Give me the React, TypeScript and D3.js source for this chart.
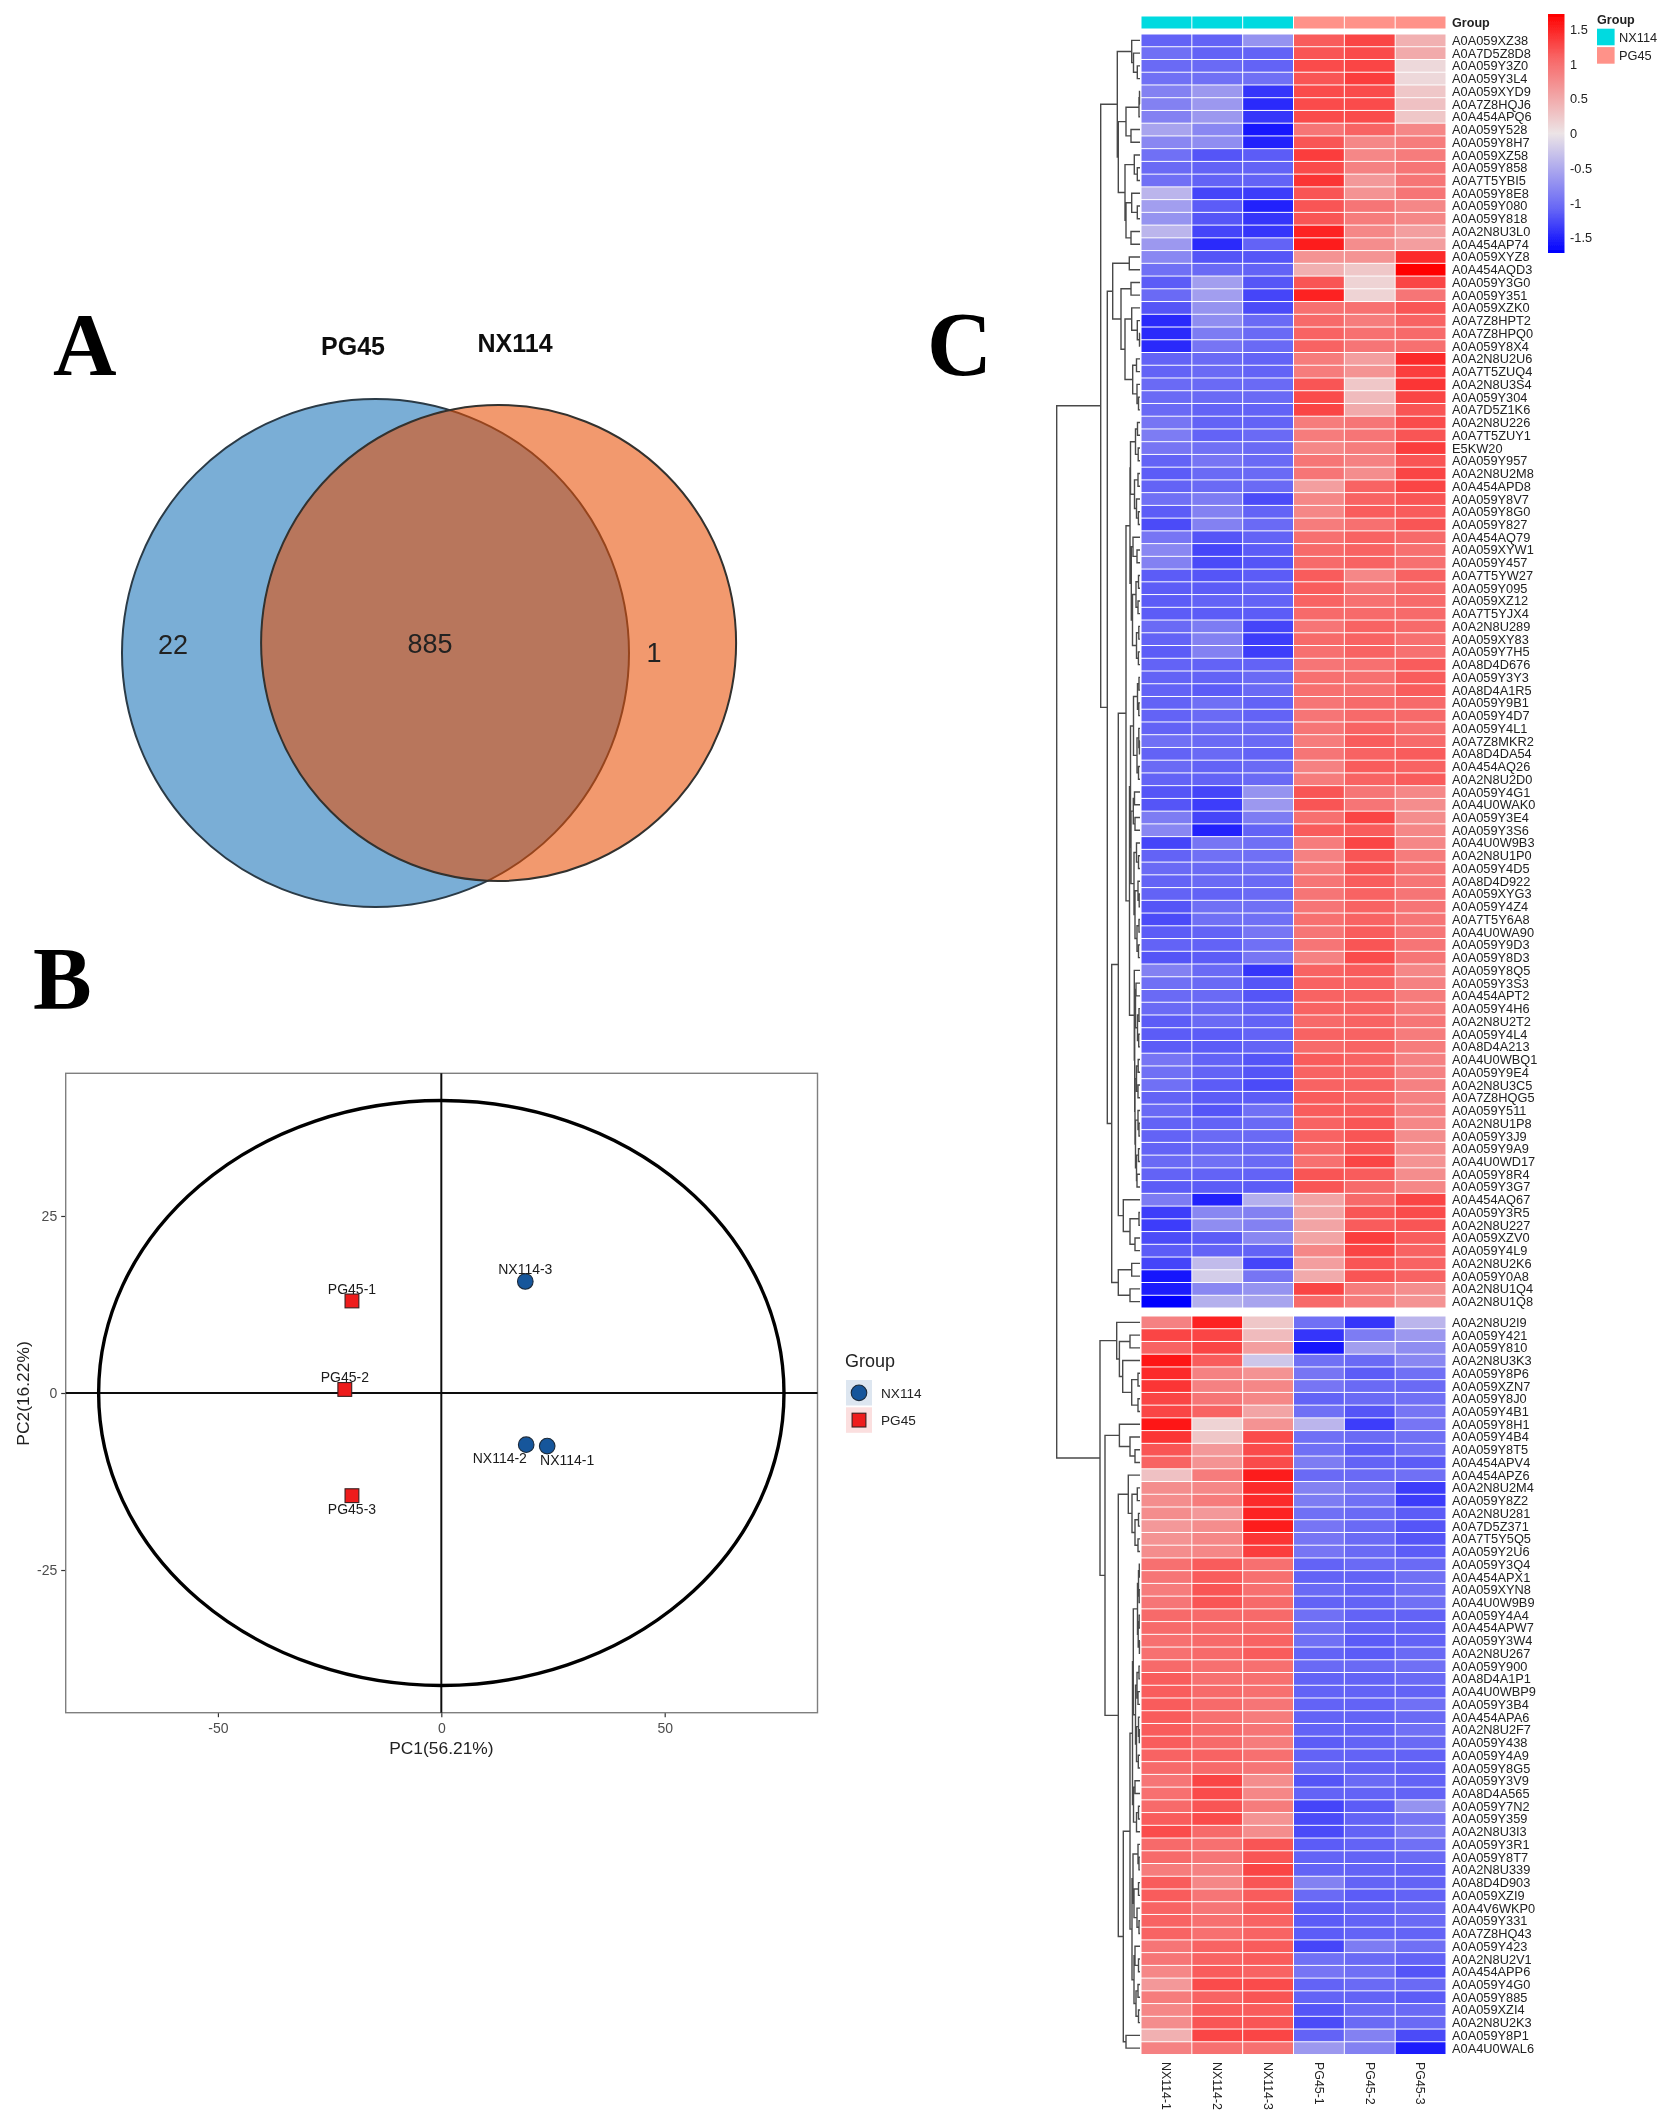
import { useEffect, useRef } from 'react';
import * as d3 from 'd3';

type Tree = number | [number, Tree, Tree];

const FONT = '"Liberation Sans", Arial, sans-serif';

// panel A
const vennSets = ['PG45', 'NX114'];
const vennCounts = [22, 885, 1];

// panel B
const pcaNames = ['NX114-1', 'NX114-2', 'NX114-3', 'PG45-1', 'PG45-2', 'PG45-3'];
const pcaX = [23.7, 19, 18.8, -20, -21.6, -20];
const pcaY = [-7.5, -7.3, 15.75, 13, 0.5, -14.5];
const pcaGroups = ['NX114', 'PG45'];
const pcaXTicks = [-50, 0, 50];
const pcaYTicks = [-25, 0, 25];
const ellipseRadius = [76.7, 41.3];

// panel C
const samples = ['NX114-1', 'NX114-2', 'NX114-3', 'PG45-1', 'PG45-2', 'PG45-3'];
const sampleGroups = ['NX114', 'NX114', 'NX114', 'PG45', 'PG45', 'PG45'];
const legendTicks = [1.5, 1, 0.5, 0, -0.5, -1, -1.5];

const topLabels = [
    'A0A059XZ38', 'A0A7D5Z8D8', 'A0A059Y3Z0', 'A0A059Y3L4', 'A0A059XYD9', 'A0A7Z8HQJ6', 'A0A454APQ6', 'A0A059Y528', 'A0A059Y8H7', 'A0A059XZ58',
    'A0A059Y858', 'A0A7T5YBI5', 'A0A059Y8E8', 'A0A059Y080', 'A0A059Y818', 'A0A2N8U3L0', 'A0A454AP74', 'A0A059XYZ8', 'A0A454AQD3', 'A0A059Y3G0',
    'A0A059Y351', 'A0A059XZK0', 'A0A7Z8HPT2', 'A0A7Z8HPQ0', 'A0A059Y8X4', 'A0A2N8U2U6', 'A0A7T5ZUQ4', 'A0A2N8U3S4', 'A0A059Y304', 'A0A7D5Z1K6',
    'A0A2N8U226', 'A0A7T5ZUY1', 'E5KW20', 'A0A059Y957', 'A0A2N8U2M8', 'A0A454APD8', 'A0A059Y8V7', 'A0A059Y8G0', 'A0A059Y827', 'A0A454AQ79',
    'A0A059XYW1', 'A0A059Y457', 'A0A7T5YW27', 'A0A059Y095', 'A0A059XZ12', 'A0A7T5YJX4', 'A0A2N8U289', 'A0A059XY83', 'A0A059Y7H5', 'A0A8D4D676',
    'A0A059Y3Y3', 'A0A8D4A1R5', 'A0A059Y9B1', 'A0A059Y4D7', 'A0A059Y4L1', 'A0A7Z8MKR2', 'A0A8D4DA54', 'A0A454AQ26', 'A0A2N8U2D0', 'A0A059Y4G1',
    'A0A4U0WAK0', 'A0A059Y3E4', 'A0A059Y3S6', 'A0A4U0W9B3', 'A0A2N8U1P0', 'A0A059Y4D5', 'A0A8D4D922', 'A0A059XYG3', 'A0A059Y4Z4', 'A0A7T5Y6A8',
    'A0A4U0WA90', 'A0A059Y9D3', 'A0A059Y8D3', 'A0A059Y8Q5', 'A0A059Y3S3', 'A0A454APT2', 'A0A059Y4H6', 'A0A2N8U2T2', 'A0A059Y4L4', 'A0A8D4A213',
    'A0A4U0WBQ1', 'A0A059Y9E4', 'A0A2N8U3C5', 'A0A7Z8HQG5', 'A0A059Y511', 'A0A2N8U1P8', 'A0A059Y3J9', 'A0A059Y9A9', 'A0A4U0WD17', 'A0A059Y8R4',
    'A0A059Y3G7', 'A0A454AQ67', 'A0A059Y3R5', 'A0A2N8U227', 'A0A059XZV0', 'A0A059Y4L9', 'A0A2N8U2K6', 'A0A059Y0A8', 'A0A2N8U1Q4', 'A0A2N8U1Q8',
];

const bottomLabels = [
    'A0A2N8U2I9', 'A0A059Y421', 'A0A059Y810', 'A0A2N8U3K3', 'A0A059Y8P6', 'A0A059XZN7', 'A0A059Y8J0', 'A0A059Y4B1', 'A0A059Y8H1', 'A0A059Y4B4',
    'A0A059Y8T5', 'A0A454APV4', 'A0A454APZ6', 'A0A2N8U2M4', 'A0A059Y8Z2', 'A0A2N8U281', 'A0A7D5Z371', 'A0A7T5Y5Q5', 'A0A059Y2U6', 'A0A059Y3Q4',
    'A0A454APX1', 'A0A059XYN8', 'A0A4U0W9B9', 'A0A059Y4A4', 'A0A454APW7', 'A0A059Y3W4', 'A0A2N8U267', 'A0A059Y900', 'A0A8D4A1P1', 'A0A4U0WBP9',
    'A0A059Y3B4', 'A0A454APA6', 'A0A2N8U2F7', 'A0A059Y438', 'A0A059Y4A9', 'A0A059Y8G5', 'A0A059Y3V9', 'A0A8D4A565', 'A0A059Y7N2', 'A0A059Y359',
    'A0A2N8U3I3', 'A0A059Y3R1', 'A0A059Y8T7', 'A0A2N8U339', 'A0A8D4D903', 'A0A059XZI9', 'A0A4V6WKP0', 'A0A059Y331', 'A0A7Z8HQ43', 'A0A059Y423',
    'A0A2N8U2V1', 'A0A454APP6', 'A0A059Y4G0', 'A0A059Y885', 'A0A059XZI4', 'A0A2N8U2K3', 'A0A059Y8P1', 'A0A4U0WAL6',
];

const topValues = [
    [-1.1, -1.1, -0.7, 1.15, 1.3, 0.45], [-1, -1.1, -1.1, 1.2, 1.25, 0.5], [-1.05, -1.05, -1.1, 1.25, 1.3, 0.1], [-1, -1, -1, 1.2, 1.35, 0.1],
    [-0.85, -0.65, -1.4, 1.25, 1.25, 0.25], [-0.85, -0.65, -1.45, 1.25, 1.25, 0.3], [-0.85, -0.65, -1.4, 1.25, 1.25, 0.25], [-0.55, -0.8, -1.6, 0.95, 1.1, 0.8],
    [-0.8, -0.75, -1.5, 1.2, 0.8, 0.9], [-1, -1.2, -1.15, 1.35, 0.8, 0.9], [-1.05, -1.1, -1.1, 1.25, 0.85, 0.95], [-1, -1.1, -1.1, 1.4, 0.65, 0.95],
    [-0.4, -1.3, -1.35, 1.2, 0.7, 0.95], [-0.6, -1.15, -1.5, 1.2, 0.95, 0.8], [-0.7, -1.2, -1.4, 1.2, 0.9, 0.8], [-0.4, -1.3, -1.4, 1.5, 0.8, 0.6],
    [-0.65, -1.45, -1.1, 1.55, 0.75, 0.6], [-0.8, -1.2, -1.2, 0.7, 0.7, 1.45], [-1, -1.05, -1.1, 0.45, 0.25, 1.72], [-1.15, -0.6, -1.2, 1.2, 0.15, 1.3],
    [-1.05, -0.6, -1.3, 1.5, 0.15, 0.95], [-1.2, -0.7, -1.25, 1, 1, 1.2], [-1.45, -0.75, -1.05, 1.05, 0.9, 1.1], [-1.45, -0.9, -1.05, 1.1, 1, 1.05],
    [-1.45, -0.95, -1.05, 1.1, 0.95, 1], [-1.1, -1.05, -1.1, 0.9, 0.6, 1.45], [-1.1, -1.05, -1.1, 0.9, 0.7, 1.35], [-1.05, -1.05, -1.05, 1.2, 0.25, 1.4],
    [-1.05, -1.05, -1.05, 1.25, 0.35, 1.3], [-1.05, -1.1, -1.1, 1.3, 0.5, 1.2], [-0.95, -1.1, -1.1, 0.9, 0.95, 1.25], [-0.9, -1.1, -1.05, 0.9, 0.95, 1.2],
    [-0.95, -1, -1.05, 0.8, 0.9, 1.35], [-1.1, -0.95, -1.05, 0.95, 0.85, 1.2], [-1.15, -1.05, -1.05, 0.95, 0.75, 1.3], [-1.1, -1.05, -1.05, 0.6, 1.1, 1.3],
    [-1, -0.9, -1.25, 0.8, 1.1, 1.2], [-1.15, -0.85, -1.1, 0.8, 1.15, 1.15], [-1.25, -0.85, -1.05, 0.9, 1, 1.2], [-0.95, -1.2, -1.1, 1, 1.1, 1.05],
    [-0.8, -1.3, -1.15, 1.05, 1.1, 1], [-0.85, -1.25, -1.2, 1.05, 1.1, 1], [-1.15, -1.2, -1.15, 1.15, 0.8, 1.1], [-1.15, -1.15, -1.1, 1.15, 0.95, 1.05],
    [-1.15, -1.1, -1.1, 1.1, 1, 1.05], [-1.15, -1.15, -1.15, 1.05, 1.05, 1.05], [-1.05, -0.9, -1.3, 0.95, 1.1, 1.05], [-1.1, -0.85, -1.35, 1.05, 1.1, 1],
    [-1.15, -0.85, -1.35, 1, 1.1, 1], [-1.1, -1.1, -1.1, 0.95, 1, 1.15], [-1.1, -1.1, -1.05, 1, 1, 1.15], [-1.1, -1.15, -1.05, 1, 1, 1.15],
    [-1.1, -1, -1.1, 0.95, 1.05, 1.05], [-1.1, -1.05, -1.1, 0.95, 1.05, 1.05], [-1.1, -1.05, -1.05, 0.95, 1.1, 1], [-1, -1.05, -1.05, 0.9, 1.15, 1.05],
    [-1.1, -1.05, -1.1, 0.95, 1.1, 1.15], [-1.05, -1.1, -1.05, 0.85, 1.15, 1.1], [-1.1, -1.1, -1.05, 0.9, 1.1, 1.15], [-1.2, -1.3, -0.7, 1.2, 0.95, 0.8],
    [-1.2, -1.35, -0.65, 1.2, 0.95, 0.75], [-0.9, -1.3, -0.9, 1, 1.3, 0.75], [-0.8, -1.5, -1.1, 1.15, 1.15, 0.8], [-1.3, -0.95, -1, 0.9, 1.3, 0.8],
    [-1.1, -1, -1, 0.85, 1.2, 0.9], [-1.05, -1.05, -1, 0.9, 1.2, 0.95], [-1.1, -1.05, -1.05, 0.95, 1.15, 0.95], [-1.1, -1.1, -1.05, 0.95, 1.1, 0.95],
    [-1.2, -1, -1, 0.95, 1.1, 0.95], [-1.25, -1, -1, 1, 1.1, 0.95], [-1.15, -1.1, -0.95, 0.95, 1.15, 0.95], [-1.1, -1.1, -1, 0.95, 1.2, 0.95],
    [-1.2, -1.15, -0.95, 0.85, 1.25, 0.95], [-0.85, -1.05, -1.4, 1.1, 1.15, 0.8], [-1, -1.05, -1.2, 1.1, 1.1, 0.85], [-1.05, -1.05, -1.2, 1.1, 1.1, 0.9],
    [-1.05, -1.05, -1.1, 1.1, 1.1, 0.9], [-1.15, -1.05, -1.1, 1.05, 1.1, 0.95], [-1.15, -1.15, -1.1, 1.1, 1.1, 0.9], [-1.15, -1.15, -1.1, 1.05, 1.1, 0.9],
    [-0.95, -1.1, -1.2, 1.15, 1.1, 0.85], [-1, -1.1, -1.2, 1.1, 1.1, 0.85], [-1, -1.15, -1.25, 1.1, 1.1, 0.85], [-1.1, -1.15, -1.15, 1.15, 1.1, 0.85],
    [-1.05, -1.2, -1, 1.15, 1.15, 0.85], [-1.1, -1.1, -1.05, 1.1, 1.2, 0.8], [-1.1, -1.05, -1.05, 1.1, 1.2, 0.75], [-1.1, -1.05, -1.05, 1.05, 1.2, 0.75],
    [-1.05, -1, -1.05, 1, 1.3, 0.7], [-1.1, -1.1, -1.1, 1.2, 1.15, 0.75], [-1.15, -1.15, -1.15, 1.2, 1.05, 0.8], [-0.9, -1.5, -0.45, 0.55, 1.05, 1.3],
    [-1.35, -0.8, -0.85, 0.55, 1.2, 1.25], [-1.35, -0.75, -0.85, 0.55, 1.15, 1.2], [-1.25, -1.15, -0.8, 0.55, 1.35, 1.15], [-1.15, -1.1, -1.1, 0.8, 1.3, 1.1],
    [-1.3, -0.35, -1.3, 0.6, 1.2, 1.1], [-1.6, -0.2, -0.95, 0.5, 1.2, 1.1], [-1.55, -0.8, -0.7, 1.3, 0.9, 0.75], [-1.72, -0.45, -0.55, 1.05, 0.9, 0.7],
];

const bottomValues = [
    [0.85, 1.5, 0.25, -1, -1.4, -0.4], [1.3, 1.3, 0.35, -1.4, -0.9, -0.65], [1.1, 1.3, 0.6, -1.6, -0.6, -0.75], [1.6, 1.15, -0.25, -1, -1.05, -0.8],
    [1.45, 0.85, 0.7, -0.95, -1.15, -1], [1.4, 0.85, 0.8, -0.95, -1.05, -1.05], [1.3, 0.95, 0.8, -1.1, -1.05, -1], [1.3, 1.1, 0.55, -1, -1.2, -0.95],
    [1.6, 0.15, 0.7, -0.4, -1.35, -0.95], [1.4, 0.25, 1.25, -1, -1.05, -1], [1.2, 0.65, 1.25, -1, -1.15, -1], [1.1, 0.7, 1.25, -0.9, -1.1, -1.15],
    [0.3, 0.9, 1.55, -1.05, -1.05, -1], [0.75, 0.8, 1.45, -0.85, -0.95, -1.35], [0.75, 0.9, 1.45, -0.9, -1, -1.35], [0.75, 0.65, 1.5, -1, -1.05, -1.15],
    [0.65, 0.75, 1.55, -0.95, -1.05, -1.2], [0.7, 0.8, 1.4, -0.95, -1.05, -1.2], [0.75, 0.8, 1.35, -0.95, -1.05, -1.15], [1, 1.15, 1, -1.1, -1.05, -1.05],
    [0.95, 1.15, 1, -1.1, -1.1, -1], [0.9, 1.2, 1, -1.05, -1.1, -1], [0.95, 1.2, 1.05, -1.1, -1.1, -1], [1.05, 1.05, 1.05, -1, -1.1, -1.1],
    [1.05, 1.05, 1.05, -1, -1.1, -1.1], [1, 1.05, 1.1, -1, -1.15, -1.1], [1, 1.05, 1.15, -1.1, -1.15, -1.05], [1.05, 1, 1, -1.05, -1.05, -1],
    [1.15, 1, 1, -1.1, -1.1, -1.05], [1.15, 1.05, 1, -1.1, -1.1, -1.1], [1.15, 1.05, 0.95, -1.1, -1.1, -1], [1.15, 1, 0.9, -1.1, -1.1, -1.05],
    [1.15, 1.05, 0.95, -1.1, -1.1, -1], [1.15, 1.05, 0.9, -1.15, -1.1, -1.05], [1.1, 1.1, 1, -1.1, -1.1, -1.1], [1.05, 1.05, 0.95, -1.05, -1.1, -1.1],
    [0.95, 1.3, 0.75, -1.2, -1.05, -1.1], [1, 1.25, 0.8, -1.1, -1.1, -1.1], [1.05, 1.2, 0.9, -1.3, -1.15, -0.7], [1.15, 1.25, 0.7, -1.25, -1.1, -0.95],
    [1.25, 1.05, 0.75, -1.25, -1.1, -0.9], [1.05, 1, 1.2, -1.15, -1.1, -1], [1.05, 0.95, 1.2, -1.1, -1.1, -1.05], [0.9, 0.85, 1.3, -1.1, -1.1, -1.1],
    [1.15, 0.8, 1.2, -0.85, -1.1, -1.1], [1.15, 0.95, 1.15, -1.05, -1.15, -1.1], [1.1, 0.95, 1.15, -1.15, -1.1, -1.05], [1.1, 1, 1.1, -1.15, -1.1, -1.05],
    [1.1, 1, 1.1, -1.15, -1.1, -1.1], [0.95, 1.1, 1.15, -1.3, -0.9, -1], [0.95, 1.1, 1.15, -1, -1.05, -1.1], [0.8, 1.15, 1.1, -0.95, -1, -1.2],
    [0.65, 1.25, 1.25, -1.1, -1.05, -1.05], [0.9, 1.1, 1.2, -1.1, -1.1, -1.15], [0.8, 1.15, 1.15, -1.2, -1.05, -1.05], [0.75, 1.2, 1.2, -1.25, -1.05, -1.05],
    [0.45, 1.3, 1.3, -1.1, -0.85, -1.25], [0.85, 1, 1, -0.65, -0.85, -1.55],
];

// row dendrogram as [merge distance, upper branch, lower branch], 0 is a leaf
const L = 0;
const rows0to16: Tree = [22.7, [8.3, L, [6.5, L, [2.7, L, L]]], [21.7,
    [14, [1, [0.5, L, L], L], [9, L, L]],
    [15, [5.7, L, [2.7, L, L]], [14, [8.3, L, [2.7, L, L]], [9, L, L]]],
]];
const rows17to29: Tree = [27.3, [10.7, L, L], [19, [9, L, L], [15,
    [8.3, L, [2.7, L, [0.5, L, L]]],
    [7.3, [3.5, L, L], [3, L, [1.5, L, L]]],
]]];
const rows30to49: Tree = [10,
    [9.5, [4.5, [2.5, L, L], [1.8, L, L]], [5.5, [2, L, L], [3.5, L, [1.6, L, L]]]],
    [8.7, [7, L, [3, L, L]], [7.5, [4, [1.5, L, L], [2, L, L]], [3.5, [1.2, L, L], [1.6, L, L]]]],
];
const rows50to72: Tree = [9.5,
    [6.5, [2.5, [1, L, L], [1.2, L, L]], [3, [1.2, L, [0.6, L, L]], [1.5, L, L]]],
    [9, [6.7, [5.5, L, L], [5, L, L]], [6, [3.5, L, [1.5, L, L]], [5, [2, L, [0.8, L, L]], [3, [1, L, L], [1.5, L, L]]]]],
];
const rows73to90: Tree = [5.7, L, [5.3,
    [4.5, [4, L, L], [2.5, [1, L, L], [1.3, L, L]]],
    [5, [3.5, [1.8, L, L], [2, L, L]], [4.5, [2, L, [1, L, L]], [3.5, [1.5, L, L], [3, L, L]]]],
]];
const rows91to95: Tree = [16.7, L, [10, [1, L, L], [5, L, L]]];
const rows96to99: Tree = [21.7, [8.3, L, L], [10, L, L]];
const topTree: Tree = [39.3, rows0to16, [32.7, rows17to29, [28.3,
    [21.7, [14, rows30to49, [10.5, rows50to72, rows73to90]], rows91to95],
    rows96to99,
]]];

const low0to7: Tree = [23.3, L, [20.6, [10, L, L], [17.3, L, [8.3, [2, L, L], [2, L, L]]]]];
const low8to11: Tree = [20.6, L, [10, L, [5, L, L]]];
const low12to18: Tree = [11.7, L, [8, [2.7, L, L], [5, [1.5, L, L], [2, L, L]]]];
const low19to40: Tree = [7.5, [6.7,
    [2.5, [1.5, [0.7, L, L], [0.8, L, L]], [1.8, [0.8, L, L], [0.6, L, L]]],
    [4.5, [3, [1, L, L], [2, L, L]], [3.5, [1.5, L, [0.7, L, L]], [1.7, L, L]]],
], [6.5, [5, L, L], [3.5, [1.5, L, L], L]]];
const low41to55: Tree = [8,
    [7, [2, L, [1, L, L]], [6, [1.5, L, L], [3, L, [1, L, L]]]],
    [6, [5, L, [1.5, L, L]], [4, [2, L, L], [1.5, L, L]]],
];
const bottomTree: Tree = [40, low0to7, [35, low8to11, [21.7, low12to18, [16.7, [10, low19to40, low41to55], [14, L, L]]]]];
const rowTree: Tree = [83.3, topTree, bottomTree];

const addText = (
    parent: d3.Selection<any, any, any, any>,
    text: string,
    x: number,
    y: number,
    size: number,
    options: { anchor?: string; weight?: string; fill?: string; family?: string; rotate?: number } = {}
) =>
    parent
        .append('text')
        .text(text)
        .attr('transform', `translate(${x},${y})${options.rotate ? ` rotate(${options.rotate})` : ''}`)
        .attr('font-family', options.family ?? FONT)
        .attr('font-size', size)
        .attr('font-weight', options.weight ?? 'normal')
        .attr('fill', options.fill ?? '#222')
        .attr('text-anchor', options.anchor ?? 'start');

const drawVenn = (root: d3.Selection<any, any, any, any>) => {
    const g = root.append('g');
    g.append('ellipse').attr('cx', 375.5).attr('cy', 653).attr('rx', 253.5).attr('ry', 254)
        .attr('fill', '#7aaed6').attr('stroke', '#2b3a46').attr('stroke-width', 2);
    g.append('ellipse').attr('cx', 498.6).attr('cy', 643).attr('rx', 237.5).attr('ry', 238)
        .attr('fill', 'rgba(232,76,0,0.57)').attr('stroke', '#33302e').attr('stroke-width', 2);

    addText(g, vennSets[0], 353, 354.5, 25, { anchor: 'middle', weight: 'bold', fill: '#111' });
    addText(g, vennSets[1], 515, 351.5, 25, { anchor: 'middle', weight: 'bold', fill: '#111' });
    addText(g, String(vennCounts[0]), 173, 654, 27, { anchor: 'middle' });
    addText(g, String(vennCounts[1]), 430, 652.5, 27, { anchor: 'middle' });
    addText(g, String(vennCounts[2]), 654, 662, 27, { anchor: 'middle' });
};

const drawPca = (root: d3.Selection<any, any, any, any>) => {
    const g = root.append('g');
    const panelTop = 1073.3;
    const panelBottom = 1712.7;
    const x = d3.scaleLinear().domain([-84.07, 84.2]).range([65.7, 817.5]);
    const y = d3.scaleLinear().domain([-45.15, 45.15]).range([panelBottom, panelTop]);
    const color = d3.scaleOrdinal<string, string>().domain(pcaGroups).range(['#15569b', '#ee1b1b']);
    const tint = d3.scaleOrdinal<string, string>().domain(pcaGroups).range(['#dde6f0', '#fbdfdf']);
    const groupOf = (name: string) => (name.startsWith('NX') ? 'NX114' : 'PG45');

    const axisColor = '#4d4d4d';
    const bottom = g.append('g').attr('transform', `translate(0,${panelBottom})`)
        .call(d3.axisBottom(x).tickValues(pcaXTicks).tickSize(4.5).tickPadding(3).tickSizeOuter(0).tickFormat((d) => String(d)));
    const left = g.append('g').attr('transform', `translate(${x.range()[0]},0)`)
        .call(d3.axisLeft(y).tickValues(pcaYTicks).tickSize(4.5).tickPadding(4).tickSizeOuter(0).tickFormat((d) => String(d)));
    [bottom, left].forEach((axis) => {
        axis.select('.domain').remove();
        axis.selectAll('line').attr('stroke', '#333').attr('stroke-width', 1.2);
        axis.selectAll('text').attr('font-family', FONT).attr('font-size', 14).attr('fill', axisColor);
    });
    bottom.selectAll('text').attr('dy', '0.88em');

    g.append('rect').attr('x', x.range()[0]).attr('y', panelTop).attr('width', x.range()[1] - x.range()[0]).attr('height', panelBottom - panelTop)
        .attr('fill', 'none').attr('stroke', '#7f7f7f').attr('stroke-width', 1.4);

    g.append('line').attr('x1', x(0)).attr('x2', x(0)).attr('y1', panelBottom).attr('y2', panelTop)
        .attr('stroke', '#111').attr('stroke-width', 2);
    g.append('line').attr('x1', x.range()[0]).attr('x2', x.range()[1]).attr('y1', y(0)).attr('y2', y(0))
        .attr('stroke', '#111').attr('stroke-width', 2);

    g.append('ellipse')
        .attr('cx', x(0)).attr('cy', y(0))
        .attr('rx', x(ellipseRadius[0]) - x(0)).attr('ry', y(0) - y(ellipseRadius[1]))
        .attr('fill', 'none').attr('stroke', '#000').attr('stroke-width', 3.4);

    const marker = (parent: d3.Selection<any, any, any, any>, px: number, py: number, group: string) => {
        if (group === 'NX114') {
            parent.append('circle').attr('cx', px).attr('cy', py).attr('r', 7.8)
                .attr('fill', color(group)).attr('stroke', '#1c2a3a').attr('stroke-width', 1.1);
        } else {
            parent.append('rect').attr('x', px - 6.9).attr('y', py - 6.9).attr('width', 13.8).attr('height', 13.8)
                .attr('fill', color(group)).attr('stroke', '#3a2020').attr('stroke-width', 1.1);
        }
    };

    const labelShift: Record<string, [number, number]> = {
        'NX114-1': [20, 19],
        'NX114-2': [-26.4, 18],
        'NX114-3': [0, -7],
        'PG45-1': [0, -7],
        'PG45-2': [0, -7],
        'PG45-3': [0, 18],
    };
    pcaNames.forEach((name, index) => {
        const px = x(pcaX[index]);
        const py = y(pcaY[index]);
        marker(g, px, py, groupOf(name));
        const [dx, dy] = labelShift[name];
        addText(g, name, px + dx, py + dy, 14, { anchor: 'middle', fill: '#1a1a1a' });
    });

    addText(g, 'PC1(56.21%)', 441.4, 1754, 17.4, { anchor: 'middle', fill: '#222' });
    addText(g, 'PC2(16.22%)', 29, 1393.5, 17.4, { anchor: 'middle', fill: '#222', rotate: -90 });

    addText(g, 'Group', 845, 1367, 18, { fill: '#222' });
    pcaGroups.forEach((group, index) => {
        const top = 1380 + index * 27.3;
        g.append('rect').attr('x', 846).attr('y', top).attr('width', 26).attr('height', 25.5).attr('fill', tint(group));
        marker(g, 859, top + 12.8, group);
        addText(g, group, 881, top + 17.8, 13.6, { fill: '#222' });
    });
};

const drawHeatmap = (root: d3.Selection<any, any, any, any>) => {
    const g = root.append('g');
    const allValues = [...topValues, ...bottomValues];
    const allLabels = [...topLabels, ...bottomLabels];

    const color = d3.scaleLinear<string>()
        .domain([-1.72, -1.1, 0, 1.1, 1.72])
        .range(['#0000ff', '#6464f6', '#ece4e6', '#f86464', '#ff0000']);
    const annotation = d3.scaleOrdinal<string, string>().domain(pcaGroups).range(['#00dae0', '#ff9289']);
    const x = d3.scaleBand<string>().domain(samples).range([1141, 1446]);
    const topY = d3.scaleBand<number>().domain(d3.range(topLabels.length)).range([34, 1308]);
    const bottomY = d3.scaleBand<number>().domain(d3.range(topLabels.length, allLabels.length)).range([1316, 2054.5]);
    const rowY = (index: number) => (index < topLabels.length ? topY(index)! : bottomY(index)!);
    const rowH = topY.bandwidth();

    // annotation strip
    g.append('g').selectAll('rect').data(samples).join('rect')
        .attr('x', (d) => x(d)! + 0.5)
        .attr('y', 16.5)
        .attr('width', x.bandwidth() - 1)
        .attr('height', 12)
        .attr('fill', (_, i) => annotation(sampleGroups[i]));
    addText(g, 'Group', 1452, 27, 12.6, { weight: 'bold' });

    // cells
    const rows = g.append('g').selectAll('g').data(allValues).join('g')
        .attr('transform', (_, i) => `translate(0,${rowY(i)})`);
    rows.selectAll('rect').data((d) => d).join('rect')
        .attr('x', (_, i) => x(samples[i])! + 0.5)
        .attr('y', 0.5)
        .attr('width', x.bandwidth() - 1)
        .attr('height', rowH - 1)
        .attr('fill', (d) => color(d));

    // row and column labels
    g.append('g').selectAll('text').data(allLabels).join('text')
        .text((d) => d)
        .attr('x', 1452)
        .attr('y', (_, i) => rowY(i) + rowH / 2 + 4.5)
        .attr('font-family', FONT)
        .attr('font-size', 12.8)
        .attr('fill', '#222');
    samples.forEach((sample) => {
        addText(g, sample, x(sample)! + x.bandwidth() / 2 - 4.2, 2062, 12.4, { rotate: 90 });
    });

    // dendrogram
    const tree = d3.hierarchy<Tree>(rowTree, (d) => (typeof d === 'number' ? null : (d.slice(1) as Tree[])));
    const distance = d3.scaleLinear().domain([0, 83.3]).range([1140, 1056.7]);
    const yOf = new Map<d3.HierarchyNode<Tree>, number>();
    tree.leaves().forEach((leaf, i) => yOf.set(leaf, rowY(i) + rowH / 2));
    const branch = d3.path();
    tree.eachAfter((node) => {
        if (!node.children) {
            return;
        }
        const [upper, lower] = node.children;
        const h = (d: Tree) => (typeof d === 'number' ? 0 : d[0]);
        const yUpper = yOf.get(upper)!;
        const yLower = yOf.get(lower)!;
        yOf.set(node, (yUpper + yLower) / 2);
        branch.moveTo(distance(h(upper.data)), yUpper);
        branch.lineTo(distance(h(node.data)), yUpper);
        branch.lineTo(distance(h(node.data)), yLower);
        branch.lineTo(distance(h(lower.data)), yLower);
    });
    g.append('path').attr('d', branch.toString()).attr('fill', 'none').attr('stroke', '#4a4a4a').attr('stroke-width', 1.4);

    // colour legend
    const legend = d3.scaleLinear().domain([-1.72, 1.72]).range([253, 14]);
    const gradient = root.append('defs').append('linearGradient').attr('id', 'legendRamp')
        .attr('x1', 0).attr('x2', 0).attr('y1', 1).attr('y2', 0);
    color.domain().forEach((value) => {
        gradient.append('stop').attr('offset', (value + 1.72) / 3.44).attr('stop-color', color(value));
    });
    g.append('rect').attr('x', 1548).attr('y', 14).attr('width', 16.5).attr('height', 239).attr('fill', 'url(#legendRamp)');
    const ticks = g.append('g').attr('transform', 'translate(1566,0)')
        .call(d3.axisRight(legend).tickValues(legendTicks).tickSize(0).tickPadding(4).tickFormat((d) => String(d)));
    ticks.select('.domain').remove();
    ticks.selectAll('text').attr('font-family', FONT).attr('font-size', 12.8).attr('fill', '#222');

    addText(g, 'Group', 1597, 24, 12.6, { weight: 'bold' });
    pcaGroups.forEach((group, index) => {
        const top = 28.7 + index * 18.4;
        g.append('rect').attr('x', 1597).attr('y', top).attr('width', 17.6).attr('height', 16.6).attr('fill', annotation(group));
        addText(g, group, 1619, top + 13, 12.8);
    });
};

export default function App() {
    const svgRef = useRef<SVGSVGElement | null>(null);

    useEffect(() => {
        if (!svgRef.current) {
            return;
        }
        const svg = d3.select(svgRef.current);
        svg.selectAll('*').remove();

        const soft = svg.append('defs').append('filter').attr('id', 'soft')
            .attr('filterUnits', 'userSpaceOnUse')
            .attr('x', 0).attr('y', 0).attr('width', 1670).attr('height', 2125);
        soft.append('feGaussianBlur').attr('stdDeviation', 0.45);

        const root = svg.append('g').attr('filter', 'url(#soft)');
        root.append('rect').attr('width', 1670).attr('height', 2125).attr('fill', '#fff');

        drawVenn(root);
        drawPca(root);
        drawHeatmap(root);

        const serif = '"Liberation Serif", "Times New Roman", serif';
        addText(root, 'A', 53, 374, 88, { weight: 'bold', fill: '#000', family: serif });
        addText(root, 'B', 33, 1008, 88, { weight: 'bold', fill: '#000', family: serif });
        addText(root, 'C', 927, 375, 90, { weight: 'bold', fill: '#000', family: serif });
    }, []);

    return (
        <div style={{ position: 'absolute', left: 0, top: 0 }}>
            <svg ref={svgRef} width={1670} height={2125} style={{ display: 'block' }} role="img" aria-label="Venn diagram, PCA plot and protein heatmap" />
        </div>
    );
}
